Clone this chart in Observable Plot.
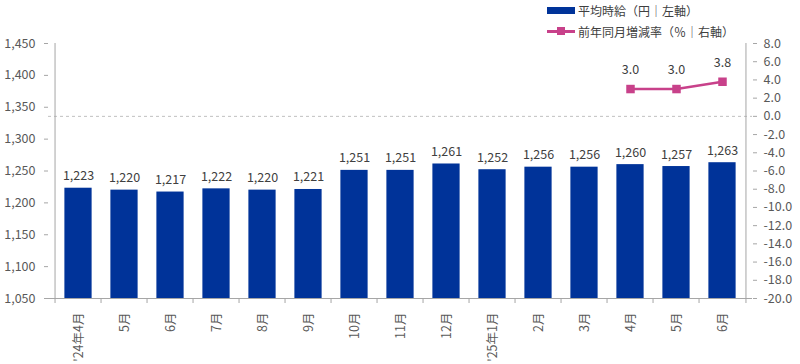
<!DOCTYPE html>
<html>
<head>
<meta charset="utf-8">
<script src="https://cdn.jsdelivr.net/npm/d3@7"></script>
<script src="https://cdn.jsdelivr.net/npm/@observablehq/plot@0.6"></script>
<style>
  html, body { margin: 0; padding: 0; background: #fff; }
  #wrap { position: relative; width: 800px; height: 364px; font-family: "Noto Sans CJK JP", sans-serif; }
  .leg { position: absolute; left: 547px; display: flex; align-items: center; font-size: 12px; color: #404040; white-space: nowrap; }
  .leg .sw { width: 28px; margin-right: 3px; position: relative; }
</style>
</head>
<body>
<div id="wrap">
  <div class="leg" style="top:1px;height:18px;">
    <div class="sw" style="height:7px;background:#003399;"></div><span>平均時給（円｜左軸）</span>
  </div>
  <div class="leg" style="top:22px;height:18px;">
    <div class="sw" style="height:18px;">
      <div style="position:absolute;left:0;top:8px;width:28px;height:2.5px;background:#C8418A;"></div>
      <div style="position:absolute;left:10px;top:5px;width:8px;height:8px;background:#C8418A;"></div>
    </div><span>前年同月増減率（％｜右軸）</span>
  </div>
  <div id="chart" style="position:absolute;left:0;top:0;"></div>
</div>
<script>
const labels = ["'24年4月","5月","6月","7月","8月","9月","10月","11月","12月","'25年1月","2月","3月","4月","5月","6月"];
const wages = [1223,1220,1217,1222,1220,1221,1251,1251,1261,1252,1256,1256,1260,1257,1263];
const rates = [null,null,null,null,null,null,null,null,null,null,null,null,3.0,3.0,3.8];
const leftTicks = [1050,1100,1150,1200,1250,1300,1350,1400,1450];
const rightTicks = [-20,-18,-16,-14,-12,-10,-8,-6,-4,-2,0,2,4,6,8];

const L0 = 1050, L1 = 1450, R0 = -20, R1 = 8;
const toLeft = v => L0 + (v - R0) * (L1 - L0) / (R1 - R0);
const rightMap = new Map(rightTicks.map(v => [toLeft(v), v.toFixed(1)]));

const idx = labels.map((_, i) => i);
const barData = idx.map(i => ({i, v: wages[i]}));
const lineData = idx.filter(i => rates[i] != null).map(i => ({i, r: rates[i], y: toLeft(rates[i])}));

const W = 800, H = 364, mL = 48, mR = 48;
const step = (W - mL - mR) / labels.length;
const half = step / 2;
const inset = step * 0.2;
const axisColor = "#a6a6a6";
const textColor = "#595959";

const chart = Plot.plot({
  width: W, height: H,
  marginLeft: mL, marginRight: mR, marginTop: 43, marginBottom: 66,
  style: { fontFamily: "'Noto Sans CJK JP', sans-serif", fontSize: "12.5px", color: textColor, background: "transparent" },
  x: { type: "band", domain: idx, padding: 0, axis: null },
  y: { domain: [L0, L1], axis: null },
  marks: [
    Plot.barY(barData, { x: "i", y1: L0, y2: "v", fill: "#003399", insetLeft: inset, insetRight: inset }),
    Plot.ruleY([toLeft(0)], { stroke: "#c0c0c0", strokeDasharray: "3,3", strokeWidth: 1 }),
    Plot.ruleX([0], { x: () => 0, dx: -half, y1: L0, y2: L1, stroke: axisColor }),
    Plot.ruleX([0], { x: () => labels.length - 1, dx: half, y1: L0, y2: L1, stroke: axisColor }),
    Plot.ruleY([L0], { stroke: axisColor }),
    Plot.axisY({ anchor: "left", ticks: leftTicks, tickFormat: d3.format(","), tickSize: 4, tickPadding: 9, stroke: axisColor, color: textColor, label: null }),
    Plot.axisY({ anchor: "right", ticks: rightTicks.map(toLeft), tickFormat: d => rightMap.get(d) ?? "", tickSize: 4, tickPadding: 7, stroke: axisColor, color: textColor, label: null }),
    Plot.axisX({ ticks: idx, tickSize: 5, tickFormat: () => "", dx: -half, stroke: axisColor, label: null }),
    Plot.axisX({ ticks: [labels.length - 1], tickSize: 5, tickFormat: () => "", dx: half, stroke: axisColor, label: null }),
    Plot.axisX({ ticks: idx, tickSize: 0, tickPadding: 14, tickRotate: -90, tickFormat: i => labels[i], color: textColor, label: null }),
    Plot.text(barData, { x: "i", y: "v", text: d => d3.format(",")(d.v), dy: -12, fill: "#404040", fontSize: 12.5 }),
    Plot.line(lineData, { x: "i", y: "y", stroke: "#C8418A", strokeWidth: 2.5 }),
    Plot.dot(lineData, { x: "i", y: "y", symbol: "square", r: 4.8, fill: "#C8418A", stroke: "none" }),
    Plot.text(lineData, { x: "i", y: "y", text: d => d.r.toFixed(1), dy: -19, fill: "#404040", fontSize: 12.5 })
  ]
});
document.getElementById("chart").appendChild(chart);
</script>
</body>
</html>
